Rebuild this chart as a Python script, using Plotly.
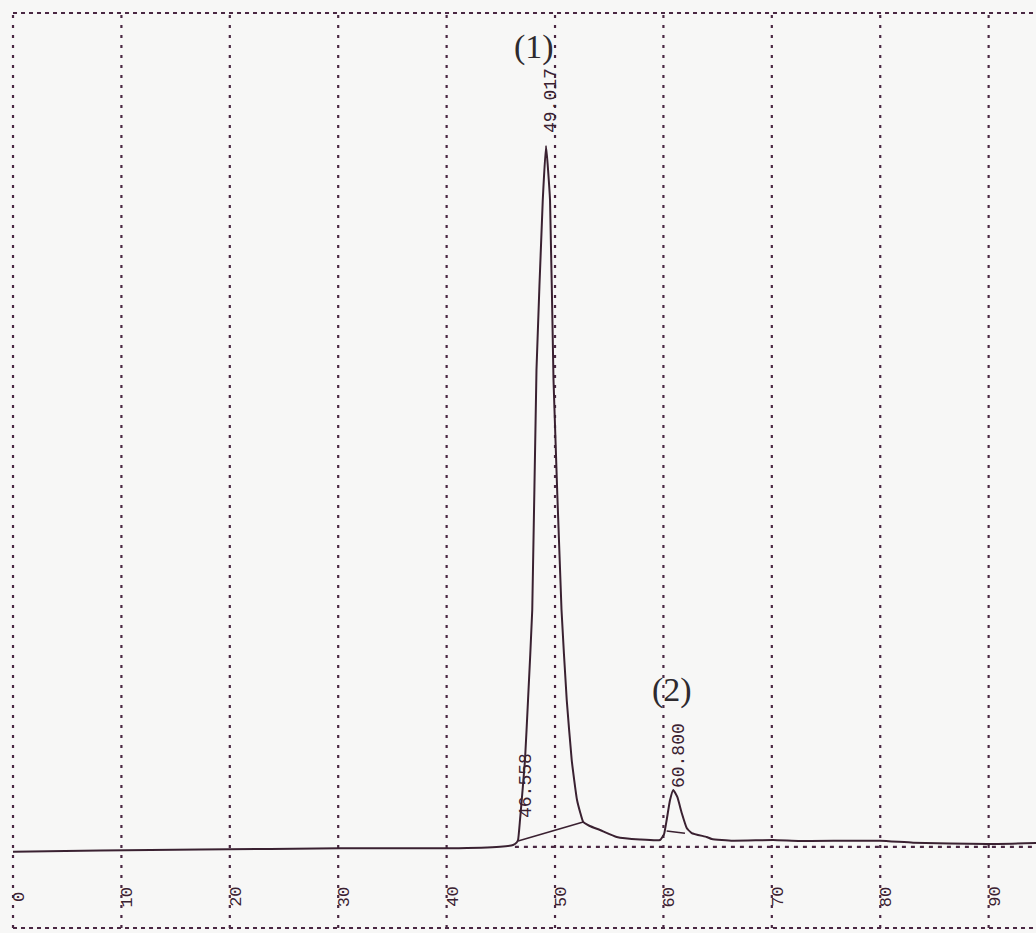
import plotly.graph_objects as go

# Chromatogram signal (time in min, detector response in arbitrary units)
time_min = [0.0, 8.03, 17.25, 30.17, 40.31, 44.93, 46.13, 46.45, 46.59, 46.77, 46.93, 47.23, 47.51,
            47.90, 48.29, 48.87, 49.17, 49.54, 49.86, 50.60, 51.08, 51.54, 51.77, 52.03, 52.31,
            52.60, 53.20, 54.15, 55.69, 57.84, 59.69, 60.06, 60.30, 60.61, 60.91, 61.28, 61.69,
            62.15, 62.61, 63.99, 64.46, 66.42, 70.11, 72.60, 79.98, 83.03, 89.85, 94.37]
signal = [-0.24, -0.07, 0.07, 0.24, 0.24, 0.47, 0.71, 1.05, 1.42, 4.26, 7.10, 12.78, 21.31,
          34.09, 68.18, 92.33, 100.0, 92.33, 66.76, 34.09, 21.31, 12.78, 9.94, 7.10, 5.40,
          3.98, 3.41, 2.84, 1.85, 1.49, 1.42, 2.27, 4.26, 7.10, 8.52, 7.53, 5.26,
          3.13, 2.41, 1.85, 1.56, 1.32, 1.42, 1.28, 1.32, 1.04, 0.85, 0.99]

# Integration baselines drawn under each peak
peak1_base_t = [46.59, 52.60]
peak1_base_v = [1.28, 3.98]
peak2_base_t = [60.30, 61.99]
peak2_base_v = [2.70, 2.37]

# Peak annotations
rt_labels = ["46.558", "49.017", "60.800"]
rt_x = [47.32, 49.63, 61.44]
rt_y = [9.23, 106.4, 13.35]
peak_names = ["(1)", "(2)"]
peak_name_x = [48.06, 60.79]
peak_name_y = [114.06, 22.73]

# Axis ticks / frame
tick_values = [0, 10, 20, 30, 40, 50, 60, 70, 80, 90]
tick_labels = ["0", "10", "20", "30", "40", "50", "60", "70", "80", "90"]
frame_top = 118.89
frame_bottom = -11.08
zero_level = 0.43
zero_line_start = 46.3
x_end = 94.37
tick_label_y = -6.68

INK = "#3a2131"
DOT = "#4a2843"

fig = go.Figure()

fig.add_trace(go.Scatter(x=time_min, y=signal, mode="lines",
                         line=dict(color=INK, width=2, shape="spline", smoothing=0.4),
                         hoverinfo="skip"))
fig.add_trace(go.Scatter(x=peak1_base_t, y=peak1_base_v, mode="lines",
                         line=dict(color=INK, width=1.6), hoverinfo="skip"))
fig.add_trace(go.Scatter(x=peak2_base_t, y=peak2_base_v, mode="lines",
                         line=dict(color=INK, width=1.6), hoverinfo="skip"))

shapes = []
for tv in tick_values:
    shapes.append(dict(type="line", xref="x", yref="y", x0=tv, x1=tv,
                       y0=frame_bottom, y1=frame_top,
                       line=dict(color=DOT, width=2.2, dash="3px,7px"), layer="below"))
shapes.append(dict(type="line", xref="x", yref="y", x0=0, x1=x_end,
                   y0=frame_top, y1=frame_top,
                   line=dict(color=DOT, width=2.2, dash="4px,4px"), layer="below"))
shapes.append(dict(type="line", xref="x", yref="y", x0=0, x1=x_end,
                   y0=frame_bottom, y1=frame_bottom,
                   line=dict(color=DOT, width=2.2, dash="4px,4px"), layer="below"))
shapes.append(dict(type="line", xref="x", yref="y", x0=zero_line_start, x1=x_end,
                   y0=zero_level, y1=zero_level,
                   line=dict(color=DOT, width=2.2, dash="4px,5px"), layer="below"))

annotations = []
for tv, tl in zip(tick_values, tick_labels):
    annotations.append(dict(x=tv, y=tick_label_y, xref="x", yref="y", text=tl,
                            showarrow=False, textangle=-90, xshift=6,
                            font=dict(family="Liberation Mono", size=17, color=INK)))
for x, y, t in zip(rt_x, rt_y, rt_labels):
    annotations.append(dict(x=x, y=y, xref="x", yref="y", text=t, showarrow=False,
                            textangle=-90,
                            font=dict(family="Liberation Mono", size=18, color=INK)))
for x, y, t in zip(peak_name_x, peak_name_y, peak_names):
    annotations.append(dict(x=x, y=y, xref="x", yref="y", text=t, showarrow=False,
                            font=dict(family="Liberation Serif", size=34, color="#2e2a2e")))

fig.update_layout(
    width=1036, height=933,
    margin=dict(l=0, r=0, t=0, b=0),
    paper_bgcolor="#f7f7f6", plot_bgcolor="#f7f7f6",
    showlegend=False,
    shapes=shapes, annotations=annotations,
    xaxis=dict(range=[-1.2, 94.37], visible=False, fixedrange=True),
    yaxis=dict(range=[-11.79, 120.74], visible=False, fixedrange=True),
)

fig.write_html(
    "out.html",
    config={"displayModeBar": False},
    post_script="document.body.style.margin='0';document.body.style.overflow='hidden';"
                "document.body.style.background='#f7f7f6';",
)
